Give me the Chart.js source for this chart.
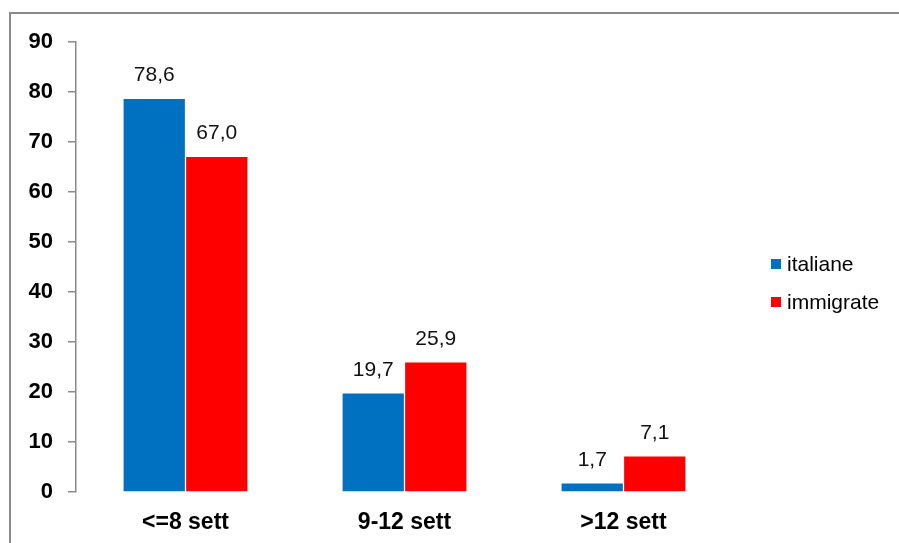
<!DOCTYPE html>
<html>
<head>
<meta charset="utf-8">
<script src="https://cdn.jsdelivr.net/npm/chart.js@4/dist/chart.umd.min.js"></script>
<style>
  html, body { margin: 0; padding: 0; background: #fff; overflow: hidden; }
  #wrap { position: relative; width: 899px; height: 543px; }
  #frame {
    position: absolute; left: 9px; top: 12px; right: 0; bottom: 0;
    border-top: 2px solid #8a8a8a; border-left: 2px solid #8a8a8a;
    pointer-events: none;
  }
  #legend { position: absolute; left: 771px; top: 252px; font: 21px Arial, "Liberation Sans", sans-serif; color: #000; }
  .leg-item { display: flex; align-items: center; height: 24px; margin-bottom: 14px; }
  .leg-box { width: 10px; height: 10px; margin-right: 6px; }
</style>
</head>
<body>
<div id="wrap">
  <canvas id="chart"></canvas>
  <div id="frame"></div>
  <div id="legend"></div>
</div>
<script>
// ─── DATI ────────────────────────────────────────────────────────────────
const categorie  = ['<=8 sett', '9-12 sett', '>12 sett'];
const italiane   = [78.6, 19.7, 1.7];
const immigrate  = [67.0, 25.9, 7.1];
const yTicks     = [0, 10, 20, 30, 40, 50, 60, 70, 80, 90];

const serie = [
  { label: 'italiane',  data: italiane,  color: '#0070C0' },
  { label: 'immigrate', data: immigrate, color: '#FF0000' },
];

const fmtIt = v => v.toFixed(1).replace('.', ',');

// etichette sopra le barre
const valueLabels = {
  id: 'valueLabels',
  afterDatasetsDraw(chart) {
    const ctx = chart.ctx;
    ctx.save();
    ctx.font = '21px Arial, "Liberation Sans", sans-serif';
    ctx.fillStyle = '#111';
    ctx.textAlign = 'center';
    ctx.textBaseline = 'alphabetic';
    chart.data.datasets.forEach((ds, i) => {
      chart.getDatasetMeta(i).data.forEach((bar, j) => {
        ctx.fillText(fmtIt(ds.data[j]), bar.x, bar.y - 18);
      });
    });
    ctx.restore();
  },
};

new Chart(document.getElementById('chart'), {
  type: 'bar',
  data: {
    labels: categorie,
    datasets: serie.map(s => ({
      label: s.label,
      data: s.data,
      backgroundColor: s.color,
      borderWidth: 0,
      barPercentage: 0.98,
      categoryPercentage: 0.571,
    })),
  },
  options: {
    responsive: true,
    maintainAspectRatio: false,
    animation: false,
    layout: { padding: { left: 0, top: 42, right: 166, bottom: 0 } },
    plugins: {
      legend: { display: false },
      tooltip: { enabled: false },
    },
    scales: {
      x: {
        grid: { display: false, drawTicks: false, tickLength: 0 },
        border: { display: false },
        ticks: { color: '#000', padding: 17, font: { family: 'Arial', size: 23, weight: 'bold' } },
        afterFit: s => { s.height = 51; },
      },
      y: {
        min: 0, max: 90,
        afterBuildTicks: s => { s.ticks = yTicks.map(v => ({ value: v })); },
        grid: { drawOnChartArea: false, drawTicks: true, tickLength: 8, color: '#8a8a8a', lineWidth: 1.5 },
        border: { display: true, color: '#8a8a8a', width: 1.5 },
        ticks: { color: '#000', padding: 15, font: { family: 'Arial', size: 22, weight: 'bold' } },
        afterFit: s => { s.width = 76; },
      },
    },
  },
  plugins: [valueLabels],
});

// legenda
document.getElementById('legend').innerHTML = serie.map(s => `
  <div class="leg-item"><span class="leg-box" style="background:${s.color}"></span>${s.label}</div>`).join('');
</script>
</body>
</html>
